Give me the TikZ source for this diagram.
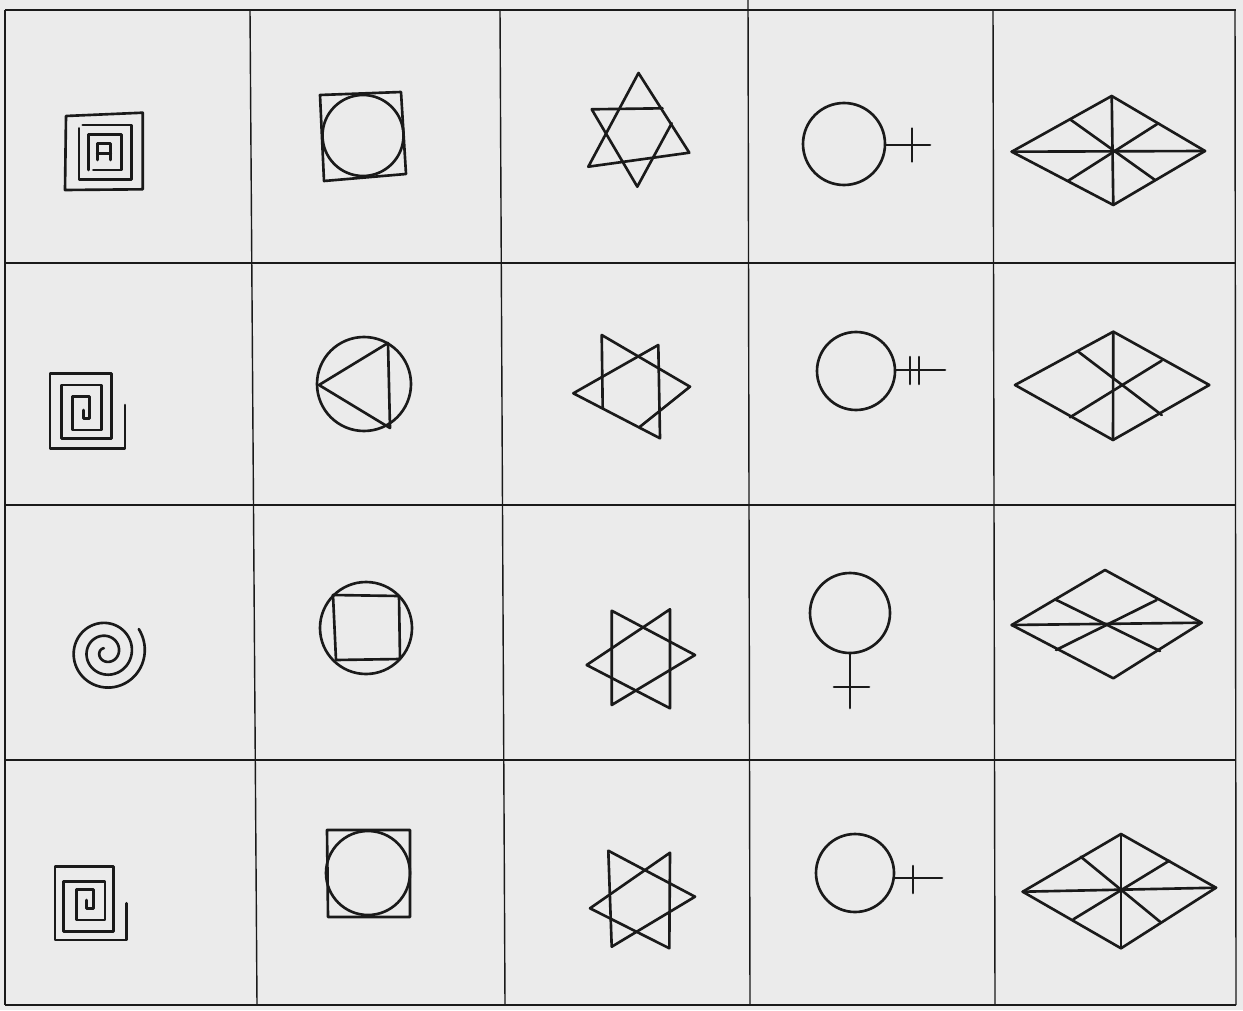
\documentclass[tikz,border=0pt]{standalone}
\usepackage{tikz}
\definecolor{paper}{HTML}{EBEBEB}
\definecolor{ink}{HTML}{1A1A1A}
\tikzset{
	gridline/.style={
			draw=ink,
			line width=0.8pt
		},
	figline/.style={
			draw=ink,
			line width=1.5pt,
			line join=round,
			line cap=round
		}
}

\begin{document}
\begin{tikzpicture}[x=0.02cm, y=-0.02cm]
\useasboundingbox (0,0) rectangle (1243,1010);
\fill[paper] (0,0) rectangle (1243,1010);

% grid
\foreach \y in {10,263,505,760,1005}
  \draw[gridline] (5,\y) -- (1236,\y);
\draw[gridline] (5,10) -- (5,1005);
\draw[gridline] (250,10) -- (257,1005);
\draw[gridline] (500,10) -- (505,1005);
\draw[gridline] (748,0) -- (750,1005);
\draw[gridline] (993,10) -- (995,1005);
\draw[gridline] (1235,10) -- (1236,1005);

% column 1: spirals
\draw[figline] (66,116) -- (142.7,112.7) -- (142.7,189.3) -- (65,190) -- cycle;
\draw[figline] (79,128.3) -- (79,179.3) -- (131.7,179.3) -- (131.7,125) -- (82.7,125);
\draw[figline] (93.3,170) -- (121.7,170) -- (121.7,134.3) -- (88.3,134.3) -- (88.3,170);
\draw[figline] (97.3,160) -- (97.3,143.3) -- (110.7,143.3) -- (110.7,160);
\draw[figline] (97.3,153.3) -- (110.7,153.3);

\draw[figline] (83.3,410) -- (83.3,418.3) -- (89.3,418.3) -- (89.3,396.7)
  -- (72.7,396.7) -- (72.7,430) -- (101.7,430) -- (101.7,385) -- (61.7,385)
  -- (61.7,438.3) -- (111.7,438.3) -- (111.7,373.3) -- (50,373.3)
  -- (50,448.3) -- (125,448.3) -- (125,405);

\draw[figline] plot[domain=120:1115, samples=240, variable=\t]
  ({106+\t/1115*40*cos(\t)}, {652-\t/1115*40*sin(\t)});

\draw[figline] (86.7,900) -- (86.7,908.3) -- (93.3,908.3) -- (93.3,889.3)
  -- (76.7,889.3) -- (76.7,920) -- (105,920) -- (105,881.7) -- (63.3,881.7)
  -- (63.3,931.7) -- (113.3,931.7) -- (113.3,866.7) -- (55,866.7)
  -- (55,940) -- (126.7,940) -- (126.7,903.3);

% column 2: circles and polygons
\draw[figline] (320,95) -- (401,92) -- (406,174) -- (324,181) -- cycle;
\draw[figline] (363,135.5) circle[radius=40.5];

\draw[figline] (364,384) circle[radius=47];
\draw[figline] (319,385) -- (388,343) -- (390,428) -- cycle;

\draw[figline] (366,628) circle[radius=46];
\draw[figline] (333,595) -- (399,596) -- (400,659) -- (336,660) -- cycle;

\draw[figline] (327,830) -- (410,830) -- (410,917) -- (328,917) -- cycle;
\draw[figline] (368,873) circle[radius=42];

% column 3: stars
\draw[figline] (638.5,73) -- (689.3,152.7) -- (588.3,166.7) -- cycle;
\draw[figline] (671.7,123.3) -- (637.3,186.7) -- (591.7,109.3) -- (662.5,108.3);

\draw[figline] (602.7,408.3) -- (601.7,335) -- (690,386.7) -- (640,426.7);
\draw[figline] (658.3,345) -- (573.3,393.3) -- (660,438.3) -- cycle;

\draw[figline] (611.7,610.7) -- (695,655) -- (611.7,705) -- cycle;
\draw[figline] (670,609.3) -- (586.7,665) -- (670,708.3) -- cycle;

\draw[figline] (608.3,850.7) -- (695,896.7) -- (611.7,946.7) -- cycle;
\draw[figline] (670,852.7) -- (590,908.3) -- (669.3,948.3) -- cycle;

% column 4: circles with crosses
\draw[figline] (844,144) circle[radius=41];
\draw[figline] (885,145) -- (930,145);
\draw[figline] (912,128.5) -- (912,161.5);

\draw[figline] (856,371) circle[radius=39];
\draw[figline] (895,370) -- (945,370);
\draw[figline] (910,357) -- (910,384);
\draw[figline] (919,357) -- (919,384);

\draw[figline] (850,613) circle[radius=40];
\draw[figline] (850,653) -- (850,708);
\draw[figline] (834,687) -- (869,687);

\draw[figline] (855,873) circle[radius=39];
\draw[figline] (894,878) -- (942,878);
\draw[figline] (913,866) -- (913,893);

% column 5: rhombi
\draw[figline] (1011.7,151.7) -- (1111.7,96) -- (1205,151) -- (1113.3,205) -- cycle;
\draw[figline] (1011.7,151.7) -- (1205,151);
\draw[figline] (1111.7,96) -- (1113.3,205);
\draw[figline] (1070,119.3) -- (1155,180);
\draw[figline] (1158.3,123.3) -- (1068.3,180.7);

\draw[figline] (1015,385) -- (1113.3,331.7) -- (1209.3,385) -- (1113,440) -- cycle;
\draw[figline] (1113.3,331.7) -- (1113,440);
\draw[figline] (1078.3,351.7) -- (1161.7,415);
\draw[figline] (1161.7,360.7) -- (1070,417.3);

\draw[figline] (1011.7,625) -- (1105,570) -- (1201.7,622.7) -- (1113.3,678.3) -- cycle;
\draw[figline] (1011.7,625) -- (1201.7,622.7);
\draw[figline] (1055,599.3) -- (1160,651);
\draw[figline] (1156.7,600) -- (1056,650);

\draw[figline] (1022.7,891.7) -- (1121,834) -- (1216,887.7) -- (1121,948.3) -- cycle;
\draw[figline] (1022.7,891.7) -- (1216,887.7);
\draw[figline] (1121,834) -- (1121,948.3);
\draw[figline] (1080.7,856.7) -- (1160,921.7);
\draw[figline] (1169.3,860.7) -- (1073.3,919.3);
\end{tikzpicture}
\end{document}
